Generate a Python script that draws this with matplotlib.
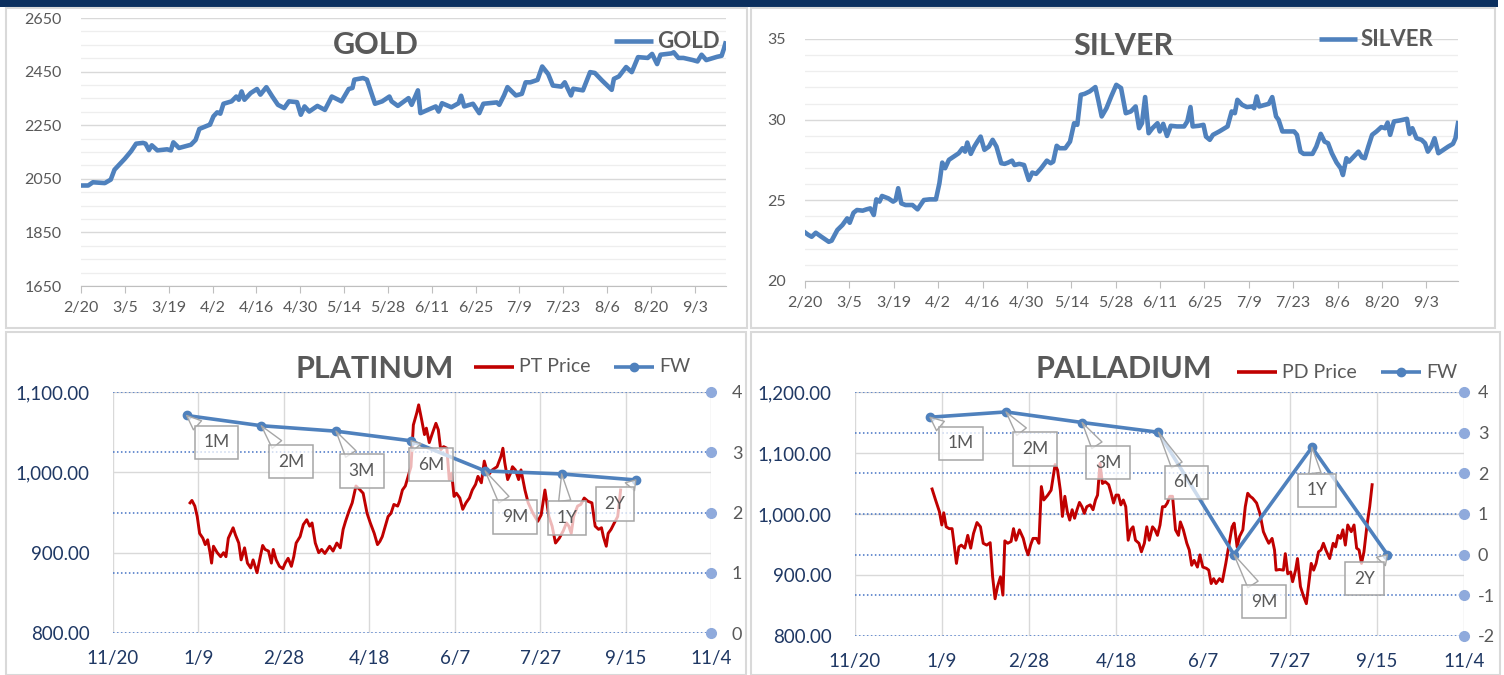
import numpy as np
import pandas as pd
import matplotlib
matplotlib.use('Agg')
import matplotlib.pyplot as plt
from matplotlib.lines import Line2D
from matplotlib.patches import Rectangle
from matplotlib.transforms import blended_transform_factory
from matplotlib.ticker import MultipleLocator, FuncFormatter
import matplotlib.dates as mdates

plt.rcParams['font.family'] = ['Lato', 'DejaVu Sans']

# ---------------- DATA ----------------
gold_start = '2024-02-20'
gold_end = '2024-09-13'
gold_days = [0, 2.3, 3.8, 7.6, 9.5, 10.7, 14, 16, 17.6, 19.8, 20.6, 21.7, 22.6, 24.4, 27.5, 28.7, 29.5,
             31.3, 35.1, 36.6, 37.8, 40.5, 41.2, 42.3, 43.5, 44.5, 45.5, 48.1, 49.6, 50.4, 51.3, 52.2,
             54.2, 56.2, 57.3, 59.2, 61.1, 62.9, 64.9, 66.4, 69, 70.2, 71.4, 72.9, 75.5, 77.9, 80.1,
             83.2, 85.5, 86.7, 87.3, 90.1, 91.3, 93.9, 96.2, 98.5, 99.2, 101.2, 104.6, 105.6, 107.6,
             108.4, 110.7, 113.3, 114.2, 115.3, 118.3, 120.6, 121.4, 122.4, 125.2, 127.2, 128.5,
             132.8, 133.6, 135.1, 136.2, 138.9, 140.8, 142, 143.5, 145.8, 147.3, 149.2, 150.7, 153.4,
             154.5, 156.5, 157.2, 160.3, 162.6, 164.1, 166.4, 169.5, 170.2, 171.8, 174.1, 175.9,
             177.9, 181, 182.4, 184, 185.1, 188.6, 189.3, 190.8, 192.4, 195.4, 196.9, 198.2, 199.7,
             203.1, 204.6, 205.3, 205.8]
gold_vals = [2025, 2025, 2037, 2034, 2047, 2084, 2125, 2153, 2181, 2184, 2181, 2157, 2175, 2156, 2160,
             2156, 2186, 2165, 2177, 2195, 2236, 2249, 2252, 2283, 2298, 2293, 2330, 2339, 2357, 2345,
             2376, 2345, 2370, 2385, 2364, 2392, 2357, 2326, 2314, 2339, 2336, 2289, 2320, 2301, 2322,
             2307, 2357, 2339, 2385, 2389, 2420, 2426, 2420, 2330, 2339, 2357, 2339, 2322, 2351, 2326,
             2380, 2295, 2307, 2320, 2301, 2332, 2317, 2332, 2360, 2320, 2330, 2295, 2330, 2335, 2326,
             2361, 2392, 2361, 2367, 2410, 2410, 2419, 2469, 2441, 2398, 2394, 2410, 2361, 2386, 2380,
             2448, 2445, 2417, 2382, 2423, 2432, 2467, 2448, 2504, 2501, 2516, 2478, 2513, 2518, 2522,
             2501, 2501, 2493, 2488, 2513, 2493, 2505, 2509, 2534, 2555]

silver_start = '2024-02-20'
silver_end = '2024-09-13'
silver_days = [0, 1.1, 2.1, 3.4, 4.9, 6.4, 7.5, 8.4, 10.2, 11.8, 13.3, 14.1, 15.3, 16.4, 18.2, 19.4,
               20.6, 21.7, 22.5, 23.5, 24.3, 26.3, 27.8, 28.6, 29.4, 30.4, 31.7, 33.9, 35.5, 37.5,
               39.3, 41.3, 42.4, 43.3, 44.2, 45.4, 46.9, 48.5, 49.7, 50.5, 51.2, 52.3, 53.4, 54.6,
               55.4, 56.6, 58, 59.2, 60.4, 61.9, 63, 64.1, 65.3, 66.1, 67.6, 69.1, 70.6, 71.7, 72.9,
               74.5, 76.3, 77.5, 78.3, 79.4, 80.3, 82.1, 83.6, 84.9, 85.9, 87, 88.2, 89.8, 91.6, 92.5,
               93.6, 95.1, 96.6, 98.2, 99.7, 101.2, 102.8, 104.3, 105.4, 106.3, 107.3, 108.4, 109.6,
               111.2, 111.9, 113, 114.2, 115.4, 117.3, 119.6, 120.6, 121.6, 122.3, 124.2, 125.7,
               126.5, 127.7, 128.7, 130.7, 133.3, 134.6, 135.6, 136.4, 137.9, 139.4, 141, 141.7,
               142.5, 143.3, 145.1, 146.3, 147.4, 148.6, 149.4, 150.6, 152.4, 154.3, 155.2, 156.3,
               157.3, 160.1, 161.3, 162.7, 163.9, 165, 166.2, 167.7, 169, 169.7, 170.8, 171.6, 173.1,
               174.6, 175.7, 176.6, 177.7, 178.9, 180.3, 181.8, 183, 183.8, 184.6, 185.8, 187.6,
               189.9, 190.7, 191.6, 192.9, 194.5, 195.6, 196.5, 197.6, 198.6, 199.8, 201.4, 202.9,
               204.4, 205.2, 206]
silver_vals = [23.01, 22.85, 22.74, 22.99, 22.78, 22.58, 22.43, 22.50, 23.16, 23.47, 23.88, 23.61,
               24.23, 24.40, 24.36, 24.44, 24.50, 24.09, 25.06, 24.92, 25.27, 25.12, 24.92, 25.02,
               25.75, 24.81, 24.71, 24.71, 24.44, 25.02, 25.06, 25.06, 26.06, 27.34, 26.99, 27.51,
               27.71, 27.92, 28.23, 28.02, 28.58, 27.88, 28.33, 28.71, 28.95, 28.13, 28.33, 28.75,
               28.33, 27.30, 27.26, 27.34, 27.46, 27.19, 27.26, 27.19, 26.26, 26.72, 26.64, 26.99,
               27.46, 27.30, 27.40, 28.38, 28.23, 28.23, 28.64, 29.78, 29.68, 31.54, 31.60, 31.75,
               32.02, 31.23, 30.20, 30.71, 31.44, 32.16, 31.96, 30.40, 30.51, 30.82, 29.47, 29.78,
               31.40, 29.16, 29.47, 29.78, 29.27, 29.74, 28.99, 29.62, 29.58, 29.58, 29.89, 30.78,
               29.58, 29.62, 29.68, 28.95, 28.75, 29.06, 29.27, 29.58, 30.51, 30.40, 31.23, 30.92,
               30.78, 30.82, 30.71, 31.44, 30.82, 30.92, 30.98, 31.40, 30.20, 29.99, 29.27, 29.27,
               29.27, 29.06, 28.02, 27.88, 27.88, 28.33, 29.12, 28.64, 28.54, 27.92, 27.34, 26.99,
               26.57, 27.61, 27.40, 27.71, 28.02, 27.67, 27.61, 28.33, 29.06, 29.27, 29.54, 29.47,
               29.82, 29.06, 29.89, 29.95, 30.05, 29.12, 29.47, 28.85, 28.75, 28.54, 28.02, 28.33,
               28.85, 27.92, 28.13, 28.33, 28.50, 28.85, 29.78]

pgm_start = '2023-11-20'
pgm_end = '2024-11-04'

pt_days = [45.1, 46.2, 47.9, 49.3, 50.7, 52.6, 54, 55.4, 56.8, 57.7, 58.8, 61, 63, 64.7, 66.1, 67.5,
           70.3, 71.7, 73.6, 75, 77, 78.7, 80.6, 82, 84.3, 86.2, 87.6, 89, 91, 92.7, 93.8, 95.5,
           97.4, 99.4, 100.8, 102.5, 104.4, 105.8, 107.2, 109.5, 111.4, 113.4, 115.1, 116.5, 118.4,
           120.4, 122.1, 124, 126.8, 128.8, 131, 133, 134.7, 136.1, 138, 140, 142.2, 144.2, 146.4,
           148.7, 150.6, 152.9, 154.8, 156.2, 157.6, 159.9, 161, 162.7, 164.4, 166.6, 167.7, 169.4,
           171.1, 173, 174.4, 175.8, 177.8, 178.9, 180.6, 182.3, 183.4, 185.1, 187, 189, 190.4,
           191.8, 193.5, 195.4, 196.8, 198.2, 199.6, 201, 203, 204.7, 206.6, 208.6, 210.3, 212.2,
           213.6, 215.6, 217.3, 218.7, 219.8, 222, 224.8, 227.1, 228.2, 229.3, 231, 232.7, 233.8,
           235.5, 237.4, 238.8, 241.1, 243, 245.8, 248.6, 250.6, 252.8, 255.1, 257, 259, 261.2,
           263.5, 265.4, 266.8, 268.2, 269.6, 271.9, 273.8, 275.8, 278, 280.3, 282.2, 284.2, 285.9,
           287, 288.7, 289.8, 291.5, 293.4, 295.4, 297.1]
pt_vals = [962, 965, 958, 945, 924, 918, 910, 916, 900, 887, 908, 900, 895, 900, 895, 918, 931, 922,
           912, 891, 906, 887, 881, 891, 875, 895, 909, 904, 902, 887, 904, 891, 883, 880, 887, 893,
           883, 895, 912, 920, 935, 941, 933, 937, 912, 900, 904, 899, 908, 902, 912, 906, 929, 939,
           951, 962, 983, 979, 974, 949, 937, 924, 910, 914, 920, 937, 945, 949, 960, 958, 964, 978,
           983, 997, 1007, 1059, 1074, 1084, 1066, 1047, 1055, 1037, 1049, 1061, 1053, 1028, 1032,
           1030, 991, 999, 970, 974, 968, 954, 962, 968, 978, 985, 995, 987, 1014, 1003, 997, 1003,
           1007, 1020, 1030, 1012, 991, 999, 1007, 1003, 991, 1003, 978, 962, 949, 939, 947, 978,
           945, 933, 912, 918, 927, 937, 933, 924, 945, 958, 960, 968, 964, 962, 933, 929, 931, 920,
           908, 924, 929, 937, 945, 978]

pd_days = [44.3, 46.3, 48.5, 49.9, 51, 52.4, 54.1, 55.8, 56.9, 58.3, 59.7, 61.1, 63.1, 64.8, 66.5,
           68.1, 70.1, 72.1, 73.7, 75.7, 77.7, 79.1, 80.5, 81.9, 83.6, 85, 86.1, 87.8, 89.7, 91.1,
           92.5, 94.5, 96.7, 98.1, 99.5, 100.9, 102.3, 104.3, 105.7, 107.1, 108.5, 110.8, 112.7,
           115, 116.4, 118, 119.2, 120.6, 122, 123.4, 124.8, 126.2, 127.6, 129, 130.4, 131.8, 133.2,
           135.2, 136.8, 138.2, 139.4, 140.8, 142.2, 143.8, 145.8, 147.2, 148.6, 150, 151.4, 152.8,
           154.2, 155.6, 157, 158.4, 159.8, 161.2, 163.2, 164.6, 166.3, 167.7, 169.1, 171, 172.4,
           173.8, 175.3, 176.7, 178.1, 179.5, 180.9, 182.5, 184.2, 185.9, 187, 188.7, 190.7, 192.1,
           193.5, 194.9, 196.8, 198.2, 199.9, 201.9, 203.3, 204.7, 206.1, 207.5, 209.5, 211.1,
           213.1, 215.1, 216.7, 217.9, 219.6, 221, 222.9, 224.3, 225.7, 227.1, 228.5, 230.8, 232.7,
           234.7, 236.4, 237.8, 239.7, 241.1, 242, 243.9, 246.2, 247.3, 248.7, 250.4, 251.5, 253.2,
           254.3, 256, 257.9, 259.4, 260.8, 262.2, 263.6, 265, 266.4, 267.8, 269.2, 270.6, 272.8,
           274.8, 276.2, 277.6, 279, 280.4, 281.8, 283.2, 285.2, 286.8, 288.3, 289.7, 291.1, 292.5,
           294.4, 295.8, 297.2]
pd_vals = [1041, 1023, 1004, 982, 1002, 979, 976, 976, 952, 919, 946, 949, 944, 965, 944, 968, 986,
           979, 952, 949, 953, 897, 861, 881, 897, 867, 956, 952, 955, 976, 957, 974, 960, 944, 933,
           949, 960, 960, 952, 1045, 1023, 1031, 1039, 1081, 1072, 1039, 996, 1029, 1004, 990, 1007,
           993, 1007, 1019, 1012, 1001, 1012, 1015, 1007, 1023, 1031, 1083, 1050, 1053, 1048, 1034,
           1018, 1031, 1031, 1015, 1023, 1012, 957, 974, 979, 957, 952, 938, 952, 979, 957, 979, 974,
           965, 982, 1012, 1012, 1018, 1029, 1029, 974, 965, 987, 974, 952, 941, 916, 924, 913, 933,
           913, 911, 908, 886, 894, 886, 894, 889, 919, 952, 979, 985, 946, 963, 974, 1012, 1034,
           1029, 1026, 1018, 1001, 971, 960, 952, 960, 941, 908, 909, 908, 935, 902, 905, 889, 908,
           927, 881, 864, 853, 886, 919, 908, 919, 938, 941, 952, 941, 927, 952, 946, 965, 960, 974,
           949, 982, 971, 982, 944, 941, 919, 938, 985, 1012, 1048]

fw_labels = ['1M', '2M', '3M', '6M', '9M', '1Y', '2Y']
fw_days = [43.1, 86.8, 130.5, 174.4, 217.8, 262.6, 306.0]
pt_fw = [3.61, 3.44, 3.35, 3.19, 2.69, 2.64, 2.54]
pd_fw = [3.38, 3.51, 3.25, 3.01, 0.0, 2.64, 0.0]

gold_yticks = [1650, 1850, 2050, 2250, 2450, 2650]
silver_yticks = [20, 25, 30, 35]
pt_left_ticks = [800, 900, 1000, 1100]
pt_right_ticks = [0, 1, 2, 3, 4]
pd_left_ticks = [800, 900, 1000, 1100, 1200]
pd_right_ticks = [-2, -1, 0, 1, 2, 3, 4]

# ---------------- STYLE / LAYOUT ----------------
W, H = 1504, 675
GRAY_TXT = '#595959'
NAVY_TXT = '#1F3864'
LINE_BLUE = '#4F81BD'
RED = '#C00000'
FW_BLUE = '#4F81BD'
DOT_BLUE = '#4472C4'
EDGE_DOT = '#8FAADC'

fig = plt.figure(figsize=(W / 100, H / 100), dpi=100)


def rect(l, t, r, b):
    return [l / W, 1 - b / H, (r - l) / W, (b - t) / H]


def fx(px):
    return px / W


def fy(py):
    return 1 - py / H


def to_dates(start, days):
    return pd.Timestamp(start) + pd.to_timedelta(np.array(days, dtype=float), unit='D')


def md_fmt(x, pos):
    d = mdates.num2date(x)
    return f"{d.month}/{d.day}"


# background elements
fig.add_artist(Rectangle((0, fy(7)), fx(1498), 7 / H, transform=fig.transFigure,
                         facecolor='#0B2F5E', edgecolor='none'))
for (l, t, r, b) in [(6, 8, 747, 328), (751, 8, 1495, 328), (6, 332, 746, 675), (751, 332, 1500, 675)]:
    fig.add_artist(Rectangle((fx(l), fy(b)), (r - l) / W, (b - t) / H, transform=fig.transFigure,
                             fill=False, edgecolor='#D9D9D9', lw=1.5))


def legend_line(x0, x1, y, color, lw, marker=None):
    xs = [fx(x0), fx(x1)]
    ys = [fy(y), fy(y)]
    fig.add_artist(Line2D(xs, ys, transform=fig.transFigure, color=color, lw=lw,
                          solid_capstyle='butt'))
    if marker:
        fig.add_artist(Line2D([fx((x0 + x1) / 2)], [fy(y)], transform=fig.transFigure,
                              marker=marker, ms=6, color=color, lw=0))


def top_panel(r, start, end, days, vals, yticks, minor, title, tpos, leg):
    ax = fig.add_axes(rect(*r))
    dates = to_dates(start, days)
    ax.plot(dates, vals, color=LINE_BLUE, lw=3.3, solid_joinstyle='round', zorder=3)
    ax.set_xlim(pd.Timestamp(start), pd.Timestamp(end))
    ax.set_ylim(yticks[0], yticks[-1])
    ax.set_yticks(yticks)
    ax.yaxis.set_minor_locator(MultipleLocator(minor))
    ax.set_xticks(pd.date_range(start, end, freq='14D'))
    ax.xaxis.set_major_formatter(FuncFormatter(md_fmt))
    ax.grid(which='major', axis='y', color='#D9D9D9', lw=1)
    ax.grid(which='minor', axis='y', color='#EEEEEE', lw=0.9)
    ax.set_axisbelow(True)
    for s in ['top', 'right', 'left']:
        ax.spines[s].set_visible(False)
    ax.spines['bottom'].set_color('#BFBFBF')
    ax.tick_params(axis='y', which='both', length=0, pad=14, labelsize=11.5, labelcolor=GRAY_TXT)
    ax.tick_params(axis='x', length=5, color='#BFBFBF', pad=6, labelsize=11.5, labelcolor=GRAY_TXT)
    ax.tick_params(axis='x', which='minor', length=0)
    fig.text(fx(tpos[0]), fy(tpos[1]), title, ha='center', va='center', fontsize=22,
             fontweight='bold', color=GRAY_TXT)
    legend_line(leg[0], leg[1], leg[2], LINE_BLUE, 3.3)
    fig.text(fx(leg[1] + 4), fy(leg[2]), title, ha='left', va='center', fontsize=16,
             fontweight='bold', color=GRAY_TXT)
    return ax


top_panel((81, 18, 726, 286), gold_start, gold_end, gold_days, gold_vals, gold_yticks, 50,
          'GOLD', (376, 45), (614, 653, 41))
top_panel((805, 39, 1458, 281), silver_start, silver_end, silver_days, silver_vals, silver_yticks, 1,
          'SILVER', (1123, 46), (1319, 1357, 39))


def pgm_panel(r, days, vals, left_ticks, right_ticks, fw_vals, offsets, title, tpos, leg,
              price_label, rpad):
    ax = fig.add_axes(rect(*r))
    start, end = pd.Timestamp(pgm_start), pd.Timestamp(pgm_end)
    ax.set_xlim(start, end)
    ax.set_ylim(left_ticks[0], left_ticks[-1])
    ax.set_yticks(left_ticks)
    ax.yaxis.set_major_formatter(FuncFormatter(lambda v, p: f'{v:,.2f}'))
    ax.set_xticks(pd.date_range(start, end, freq='50D'))
    ax.xaxis.set_major_formatter(FuncFormatter(md_fmt))
    ax.grid(which='major', color='#D9D9D9', lw=1)
    ax.set_axisbelow(True)
    for s in ax.spines.values():
        s.set_visible(False)
    ax.tick_params(axis='both', length=0, labelsize=13.5, labelcolor=NAVY_TXT)
    ax.tick_params(axis='x', pad=12)
    ax.tick_params(axis='y', pad=17)

    axf = ax.twinx()
    axf.set_ylim(right_ticks[0], right_ticks[-1])
    axf.set_yticks(right_ticks)
    axf.yaxis.set_major_formatter(FuncFormatter(lambda v, p: f'{v:.0f}'.replace('\u2212', '-')))
    for s in axf.spines.values():
        s.set_visible(False)
    axf.tick_params(axis='y', length=0, pad=rpad, labelsize=13, labelcolor=GRAY_TXT)

    tr = blended_transform_factory(ax.transAxes, axf.transData)
    for v in right_ticks:
        ax.plot([0, 1], [v, v], transform=tr, color=DOT_BLUE, lw=1.1, ls=(0, (1, 1.6)), zorder=1)

    ax.plot(to_dates(pgm_start, days), vals, color=RED, lw=2.1, zorder=3)

    axf.plot(np.ones(len(right_ticks)), right_ticks, 'o', transform=tr, color=EDGE_DOT, ms=7,
             clip_on=False, zorder=2)
    fw_dates = to_dates(pgm_start, fw_days)
    axf.plot(fw_dates, fw_vals, color=FW_BLUE, lw=2.6, marker='o', ms=6, zorder=4)
    for lab, d, v, off in zip(fw_labels, fw_dates, fw_vals, offsets):
        axf.annotate(lab, xy=(d, v), xytext=off, textcoords='offset pixels', ha='center',
                     va='center', fontsize=12.5, color=GRAY_TXT, zorder=6,
                     bbox=dict(boxstyle='square,pad=0.5', fc=(1, 1, 1, 0.72), ec='#A6A6A6', lw=1.1),
                     arrowprops=dict(arrowstyle='wedge,tail_width=0.7,shrink_factor=0.5',
                                     fc=(1, 1, 1, 0.72), ec='#A6A6A6', lw=1.0,
                                     shrinkA=0, shrinkB=0))

    fig.text(fx(tpos[0]), fy(tpos[1]), title, ha='center', va='center', fontsize=22,
             fontweight='bold', color=GRAY_TXT)
    legend_line(leg[0], leg[0] + 40, leg[2], RED, 2.6)
    fig.text(fx(leg[0] + 45), fy(leg[2]), price_label, ha='left', va='center', fontsize=14,
             color=GRAY_TXT)
    legend_line(leg[1], leg[1] + 40, leg[2], FW_BLUE, 2.6, marker='o')
    fig.text(fx(leg[1] + 45), fy(leg[2]), 'FW', ha='left', va='center', fontsize=14,
             color=GRAY_TXT)
    return ax


pt_offsets = [(30, -27), (30, -36), (26, -40), (20, -24), (30, -46), (5, -44), (-21, -24)]
pd_offsets = [(31, -26), (29, -37), (26, -40), (28, -50), (30, -47), (5, -43), (-23, -24)]

pgm_panel((113, 392, 711, 633), pt_days, pt_vals, pt_left_ticks, pt_right_ticks, pt_fw, pt_offsets,
          'PLATINUM', (375, 369), (474, 614, 367), 'PT Price', 15)
pgm_panel((855, 392, 1464, 636), pd_days, pd_vals, pd_left_ticks, pd_right_ticks, pd_fw, pd_offsets,
          'PALLADIUM', (1124, 369), (1237, 1381, 372), 'PD Price', 10)

fig.savefig('out.png', dpi=100)
